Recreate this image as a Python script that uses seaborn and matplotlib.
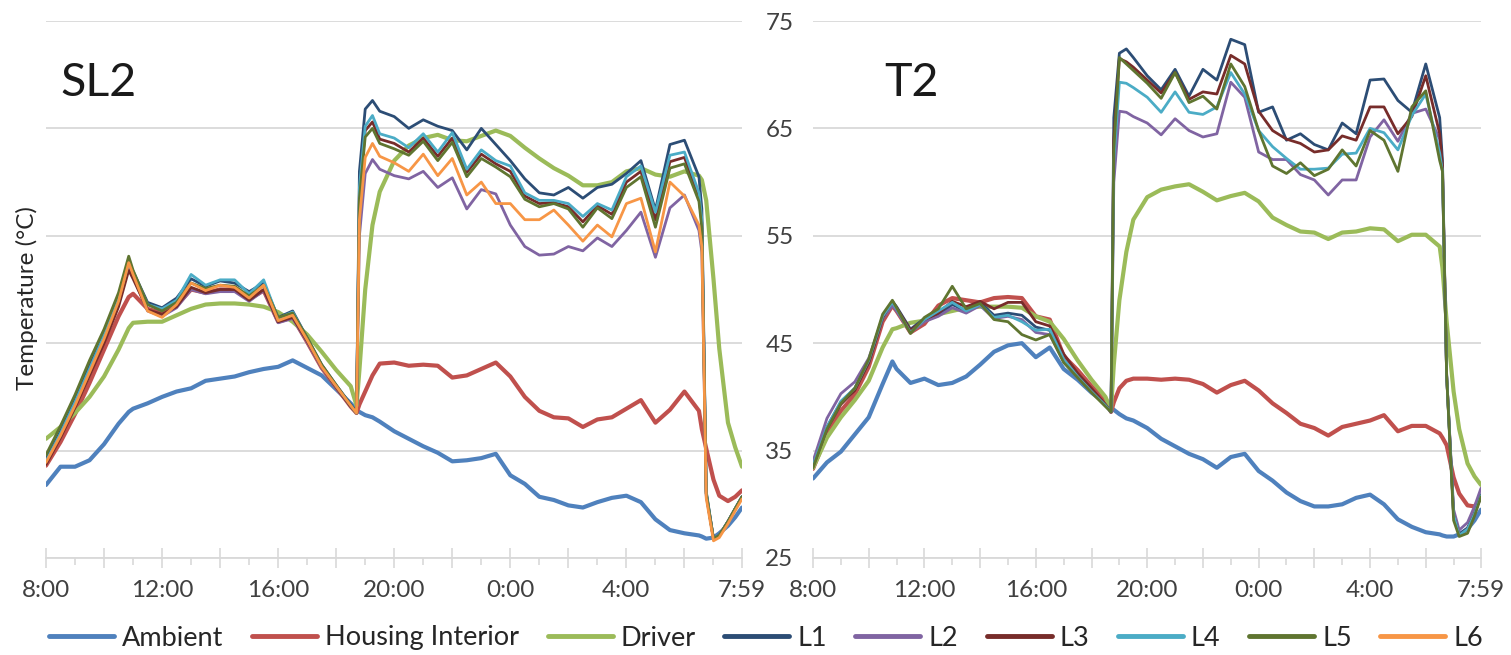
import matplotlib
matplotlib.use("Agg")
import matplotlib.pyplot as plt
from matplotlib.lines import Line2D
from matplotlib.ticker import FixedLocator, FixedFormatter
import pandas as pd
import seaborn as sns

# Sample times, minutes after 8:00 (last sample is 7:59 next morning)
minutes = [0, 30, 60, 90, 120, 150, 171, 180, 210, 240,
           270, 300, 330, 360, 390, 420, 450, 480, 510, 540,
           570, 600, 630, 642, 648, 660, 675, 690, 720, 750,
           780, 810, 840, 870, 900, 930, 960, 990, 1020, 1050,
           1080, 1110, 1140, 1170, 1200, 1230, 1260, 1290, 1320, 1350,
           1356, 1365, 1380, 1392, 1410, 1425, 1439]

series_order = ["Ambient", "Housing Interior", "Driver", "L1", "L2", "L3", "L4", "L5", "L6"]

# ---- SL2 luminaire (deg C) ----
sl2_ambient = [31.8, 33.5, 33.5, 34.1, 35.6, 37.5, 38.6, 38.9, 39.4, 40.0,
               40.5, 40.8, 41.5, 41.7, 41.9, 42.3, 42.6, 42.8, 43.4, 42.7,
               42.0, 40.7, 39.4, 38.8, 38.6, 38.3, 38.1, 37.7, 36.8, 36.1,
               35.4, 34.8, 34.0, 34.1, 34.3, 34.7, 32.7, 31.9, 30.7, 30.4,
               29.9, 29.7, 30.2, 30.6, 30.8, 30.2, 28.6, 27.6, 27.3, 27.1,
               27.0, 26.8, 26.9, 27.3, 28.0, 28.8, 29.7]
sl2_housing = [33.6, 35.8, 38.4, 41.3, 44.4, 47.5, 49.3, 49.6, 48.2, 47.8,
               48.5, 50.0, 49.7, 50.0, 50.0, 49.1, 49.9, 47.0, 47.4, 45.1,
               42.7, 40.9, 39.1, 38.5, 39.3, 40.5, 42.0, 43.1, 43.2, 42.9,
               43.0, 42.9, 41.8, 42.0, 42.6, 43.2, 41.9, 40.0, 38.7, 38.1,
               38.0, 37.2, 37.9, 38.1, 38.9, 39.7, 37.6, 38.8, 40.5, 38.7,
               37.0, 35.2, 32.3, 30.8, 30.3, 30.7, 31.3]
sl2_driver = [36.1, 37.2, 38.5, 40.0, 41.9, 44.4, 46.4, 46.9, 47.0, 47.0,
              47.6, 48.2, 48.6, 48.7, 48.7, 48.6, 48.4, 47.9, 47.0, 45.8,
              44.2, 42.5, 41.0, 39.2, 42.5, 50.0, 56.0, 59.1, 62.0, 63.4,
              64.1, 64.4, 63.9, 63.8, 64.3, 64.8, 64.3, 63.2, 62.2, 61.3,
              60.6, 59.7, 59.7, 60.0, 61.0, 61.3, 60.7, 60.5, 61.0, 60.6,
              60.2, 58.3, 51.0, 44.5, 37.6, 35.3, 33.5]
sl2_l1 = [34.2, 36.8, 39.7, 42.9, 45.8, 49.3, 52.5, 51.7, 48.8, 48.3,
          49.2, 51.0, 50.3, 50.8, 50.6, 49.8, 50.6, 47.4, 48.0, 45.5,
          43.0, 41.1, 39.3, 38.6, 61.0, 66.8, 67.6, 66.6, 66.1, 65.0,
          65.8, 65.2, 64.8, 63.0, 65.0, 63.5, 62.0, 60.3, 59.0, 58.8,
          59.5, 58.5, 59.5, 59.8, 60.8, 62.0, 57.4, 63.5, 63.9, 60.5,
          57.5, 31.2, 26.8, 27.1, 28.4, 29.6, 30.7]
sl2_l2 = [33.8, 36.3, 39.2, 42.2, 45.3, 48.7, 52.2, 51.2, 48.0, 47.5,
          48.3, 50.0, 49.6, 49.8, 49.8, 48.9, 49.9, 46.9, 47.3, 45.1,
          42.7, 40.9, 39.1, 38.5, 55.0, 60.8, 62.1, 61.2, 60.6, 60.3,
          61.0, 59.5, 60.4, 57.5, 59.3, 58.9, 56.0, 54.0, 53.2, 53.3,
          54.0, 53.6, 54.8, 54.0, 55.5, 57.2, 53.0, 57.6, 58.8, 55.5,
          53.5, 30.8, 26.8, 27.1, 28.4, 29.6, 30.7]
sl2_l3 = [33.7, 36.2, 39.0, 42.0, 45.0, 48.4, 51.8, 51.0, 48.1, 47.7,
          48.4, 50.2, 49.7, 50.0, 50.0, 49.0, 50.0, 47.0, 47.4, 45.2,
          42.8, 40.9, 39.1, 38.5, 59.0, 64.8, 65.6, 64.0, 63.6, 62.8,
          64.1, 62.4, 64.1, 60.9, 62.6, 61.7, 61.0, 58.7, 58.0, 58.1,
          57.7, 56.3, 57.8, 57.0, 60.0, 61.0, 56.5, 61.9, 62.3, 58.6,
          56.2, 31.0, 26.8, 27.1, 28.4, 29.6, 30.7]
sl2_l4 = [34.0, 36.6, 39.5, 42.6, 45.7, 49.1, 52.5, 51.6, 48.6, 48.2,
          49.0, 51.4, 50.4, 50.9, 50.9, 49.6, 50.9, 47.3, 47.9, 45.4,
          42.9, 41.0, 39.2, 38.5, 59.5, 65.2, 66.2, 64.5, 64.1, 63.2,
          64.5, 62.8, 64.6, 61.2, 63.0, 62.0, 61.5, 59.0, 58.3, 58.3,
          58.0, 56.8, 58.0, 57.4, 60.5, 61.5, 57.2, 62.5, 62.8, 59.0,
          56.5, 31.1, 26.8, 27.1, 28.4, 29.6, 30.7]
sl2_l5 = [34.6, 37.3, 40.2, 43.4, 46.3, 49.7, 53.1, 51.8, 48.6, 48.0,
          48.8, 50.6, 50.1, 50.4, 50.3, 49.4, 50.4, 47.4, 47.8, 45.5,
          43.0, 41.1, 39.2, 38.5, 58.5, 64.2, 65.0, 63.6, 63.1, 62.5,
          63.8, 62.0, 63.7, 60.5, 62.2, 61.4, 60.5, 58.4, 57.7, 58.0,
          57.5, 55.8, 57.6, 56.6, 59.5, 60.5, 55.8, 61.3, 61.7, 58.2,
          55.7, 31.0, 26.8, 27.1, 28.4, 29.6, 30.7]
sl2_l6 = [33.9, 36.4, 39.2, 42.3, 45.4, 48.9, 52.5, 51.4, 48.0, 47.4,
          48.6, 50.6, 49.9, 50.4, 50.2, 49.2, 50.4, 47.1, 47.6, 45.3,
          42.8, 41.0, 39.2, 38.5, 56.5, 62.3, 63.6, 62.4, 61.8, 61.0,
          62.6, 60.6, 62.2, 58.8, 60.0, 58.0, 58.0, 56.5, 56.5, 57.4,
          56.0, 54.5, 56.0, 54.9, 58.0, 58.5, 53.5, 60.0, 58.7, 56.0,
          54.0, 30.6, 26.6, 26.9, 28.2, 29.4, 30.5]

# ---- T2 luminaire (deg C), no L6 sensor ----
t2_ambient = [32.4, 33.9, 34.9, 36.5, 38.1, 41.2, 43.3, 42.6, 41.3, 41.7,
              41.1, 41.3, 41.9, 43.0, 44.2, 44.8, 45.0, 43.7, 44.6, 42.6,
              41.6, 40.4, 39.4, 39.0, 38.8, 38.4, 38.0, 37.8, 37.1, 36.1,
              35.4, 34.7, 34.2, 33.4, 34.4, 34.7, 33.1, 32.2, 31.1, 30.3,
              29.8, 29.8, 30.0, 30.6, 30.9, 30.0, 28.6, 27.9, 27.4, 27.2,
              27.1, 27.0, 27.0, 27.2, 27.7, 28.5, 29.5]
t2_housing = [33.3, 36.5, 38.7, 40.2, 42.8, 47.0, 48.5, 48.0, 46.0, 46.8,
              48.5, 49.2, 49.0, 48.8, 49.2, 49.3, 49.2, 47.5, 47.2, 43.8,
              42.5, 41.0, 39.7, 38.6, 39.5, 40.8, 41.5, 41.7, 41.7, 41.6,
              41.7, 41.6, 41.2, 40.4, 41.1, 41.5, 40.6, 39.4, 38.5, 37.5,
              37.1, 36.4, 37.2, 37.5, 37.8, 38.3, 36.8, 37.3, 37.3, 36.6,
              36.2, 35.5, 32.5, 31.0, 29.9, 29.8, 30.6]
t2_driver = [33.4, 36.2, 38.1, 39.7, 41.5, 44.6, 46.3, 46.4, 46.9, 47.1,
             47.7, 48.0, 48.3, 48.4, 48.4, 48.4, 48.3, 47.5, 47.0, 45.4,
             43.4, 41.6, 40.0, 38.8, 43.0, 49.0, 53.5, 56.5, 58.6, 59.3,
             59.6, 59.8, 59.1, 58.3, 58.7, 59.0, 58.2, 56.7, 56.0, 55.4,
             55.3, 54.7, 55.3, 55.4, 55.7, 55.6, 54.5, 55.1, 55.1, 54.0,
             52.0, 47.0, 40.5, 37.0, 33.8, 32.6, 31.8]
t2_l1 = [33.8, 37.2, 39.5, 40.8, 43.2, 47.3, 48.9, 48.4, 46.3, 47.3,
         47.6, 48.6, 48.0, 48.8, 47.6, 47.8, 47.6, 46.5, 46.2, 43.4,
         41.9, 40.7, 39.2, 38.6, 66.0, 72.0, 72.4, 71.6, 69.9, 68.6,
         70.5, 68.0, 70.5, 69.5, 73.3, 72.8, 66.5, 67.0, 63.9, 64.5,
         63.5, 63.0, 65.5, 64.5, 69.5, 69.6, 67.6, 66.5, 71.0, 66.0,
         62.0, 42.0, 29.0, 27.2, 27.8, 29.2, 30.9]
t2_l2 = [34.0, 38.0, 40.3, 41.4, 43.6, 47.3, 48.5, 48.0, 46.0, 47.0,
         47.5, 48.3, 47.8, 48.5, 47.3, 47.5, 47.2, 46.0, 45.8, 43.3,
         41.8, 40.6, 39.2, 38.6, 60.0, 66.6, 66.5, 66.1, 65.5, 64.4,
         65.9, 64.8, 64.2, 64.5, 69.3, 67.9, 62.8, 62.1, 62.1, 60.7,
         60.2, 58.8, 60.2, 60.2, 64.2, 65.8, 63.8, 66.4, 66.8, 64.0,
         61.0, 42.0, 29.5, 27.6, 28.3, 29.8, 31.5]
t2_l3 = [33.5, 37.0, 39.3, 40.6, 43.2, 47.4, 48.9, 48.3, 46.2, 47.2,
         47.8, 48.9, 48.4, 48.9, 48.2, 48.8, 48.8, 47.0, 46.6, 44.0,
         42.2, 40.8, 39.3, 38.6, 64.0, 71.5, 71.2, 70.7, 69.5, 68.3,
         70.2, 67.7, 68.4, 68.2, 71.8, 71.0, 66.6, 64.8, 64.0, 63.6,
         62.8, 63.0, 64.3, 63.9, 67.0, 67.0, 64.5, 66.1, 69.9, 64.5,
         61.5, 42.0, 29.0, 27.1, 27.7, 29.1, 30.8]
t2_l4 = [33.6, 37.2, 39.6, 40.8, 43.4, 47.5, 48.8, 48.2, 46.0, 47.2,
         48.0, 48.8, 48.0, 48.6, 47.4, 47.6, 47.0, 46.2, 46.3, 43.5,
         41.9, 40.5, 39.2, 38.6, 62.0, 69.3, 69.2, 68.8, 67.9, 66.5,
         68.4, 66.5, 66.3, 67.0, 70.2, 68.2, 64.8, 63.3, 62.2, 61.2,
         61.2, 61.3, 62.6, 62.7, 65.0, 64.6, 63.0, 66.2, 68.2, 62.7,
         61.0, 42.0, 29.0, 27.1, 27.7, 29.1, 30.8]
t2_l5 = [33.4, 37.0, 39.4, 40.8, 43.5, 47.7, 49.0, 48.3, 45.9, 47.4,
         48.2, 50.3, 48.2, 48.7, 47.2, 47.0, 45.8, 45.3, 45.8, 43.2,
         41.8, 40.4, 39.1, 38.6, 63.0, 71.6, 71.0, 70.4, 69.2, 67.8,
         70.2, 67.4, 68.0, 66.8, 71.0, 68.9, 64.8, 61.5, 60.8, 61.8,
         60.6, 61.2, 63.0, 61.5, 64.8, 63.9, 61.0, 67.0, 68.5, 62.0,
         61.0, 42.0, 28.5, 27.0, 27.3, 28.9, 30.7]

# Axis labelling
tick_minutes = [0, 240, 480, 720, 960, 1200, 1439]
tick_labels = ["8:00", "12:00", "16:00", "20:00", "0:00", "4:00", "7:59"]
y_ticks = [25, 35, 45, 55, 65, 75]

palette = {"Ambient": "#4F81BD", "Housing Interior": "#C0504D", "Driver": "#9BBB59",
           "L1": "#2C4D75", "L2": "#8064A2", "L3": "#772C2A",
           "L4": "#4BACC6", "L5": "#5F7530", "L6": "#F79646"}
line_widths = {"Ambient": 3.0, "Housing Interior": 3.0, "Driver": 3.0,
               "L1": 2.0, "L2": 2.0, "L3": 2.0, "L4": 2.0, "L5": 2.0, "L6": 2.0}

sl2 = {"Ambient": sl2_ambient, "Housing Interior": sl2_housing, "Driver": sl2_driver,
       "L1": sl2_l1, "L2": sl2_l2, "L3": sl2_l3, "L4": sl2_l4, "L5": sl2_l5, "L6": sl2_l6}
t2 = {"Ambient": t2_ambient, "Housing Interior": t2_housing, "Driver": t2_driver,
      "L1": t2_l1, "L2": t2_l2, "L3": t2_l3, "L4": t2_l4, "L5": t2_l5}


def to_long(columns):
    parts = []
    for name, values in columns.items():
        assert len(values) == len(minutes), name
        parts.append(pd.DataFrame({"minute": minutes, "temp": values, "series": name}))
    return pd.concat(parts, ignore_index=True)


sns.set_theme(style="white")
plt.rcParams["font.family"] = ["Lato", "DejaVu Sans"]
plt.rcParams["lines.solid_joinstyle"] = "round"
plt.rcParams["lines.solid_capstyle"] = "round"

W, H = 1511, 655
fig = plt.figure(figsize=(W / 100, H / 100), dpi=100)
ax_l = fig.add_axes([46 / W, (H - 558) / H, 696 / W, 537 / H])
ax_r = fig.add_axes([813 / W, (H - 558) / H, 668 / W, 537 / H])

GRID = "#D9D9D9"
TEXT = "#404040"

major = [m for m in range(0, 1440, 120)] + [1439]
major_labels = [tick_labels[tick_minutes.index(m)] if m in tick_minutes else "" for m in major]
minor = list(range(60, 1440, 120))

for ax, data, title, tx in [(ax_l, sl2, "SL2", 0.021), (ax_r, t2, "T2", 0.107)]:
    df = to_long(data)
    order = [s for s in series_order if s in data]
    sns.lineplot(data=df, x="minute", y="temp", hue="series", size="series",
                 hue_order=order, size_order=order, palette=palette, sizes=line_widths,
                 estimator=None, sort=False, legend=False, ax=ax)
    ax.set_xlim(0, 1439)
    ax.set_ylim(25, 75)
    ax.set_xlabel("")
    ax.set_ylabel("")
    ax.set_yticks(y_ticks)
    ax.grid(axis="y", color=GRID, linewidth=1.3)
    ax.grid(axis="x", visible=False)
    ax.set_axisbelow(True)
    for side in ["top", "right", "left"]:
        ax.spines[side].set_visible(False)
    ax.spines["bottom"].set_color(GRID)
    ax.spines["bottom"].set_linewidth(1.3)
    ax.xaxis.set_major_locator(FixedLocator(major))
    ax.xaxis.set_major_formatter(FixedFormatter(major_labels))
    ax.xaxis.set_minor_locator(FixedLocator(minor))
    ax.tick_params(axis="x", which="major", direction="inout", length=14, width=1.2,
                   color=GRID, labelsize=17.5, labelcolor=TEXT, pad=9, bottom=True)
    ax.tick_params(axis="x", which="minor", direction="out", length=5, width=1.2,
                   color=GRID, bottom=True)
    ax.text(tx, 0.885, title, transform=ax.transAxes, fontsize=33.5,
            ha="left", va="center", color="#1A1A1A")

ax_l.tick_params(axis="y", length=0, labelleft=False)
ax_r.tick_params(axis="y", length=0, labelleft=True, labelsize=17.5, labelcolor=TEXT, pad=14)

fig.text(27 / W, 1 - 298 / H, "Temperature (°C)", rotation=90, ha="center", va="center",
         fontsize=17.5, color="#262626")

handles = [Line2D([], [], color=palette[s], linewidth=3.5) for s in series_order]
fig.legend(handles, series_order, loc="center", bbox_to_anchor=(766 / W, 1 - 638 / H),
           ncol=9, frameon=False, fontsize=19.5, handlelength=2.4, handletextpad=0.3,
           columnspacing=1.05, labelcolor="#262626")

fig.savefig("out.png", dpi=100)
